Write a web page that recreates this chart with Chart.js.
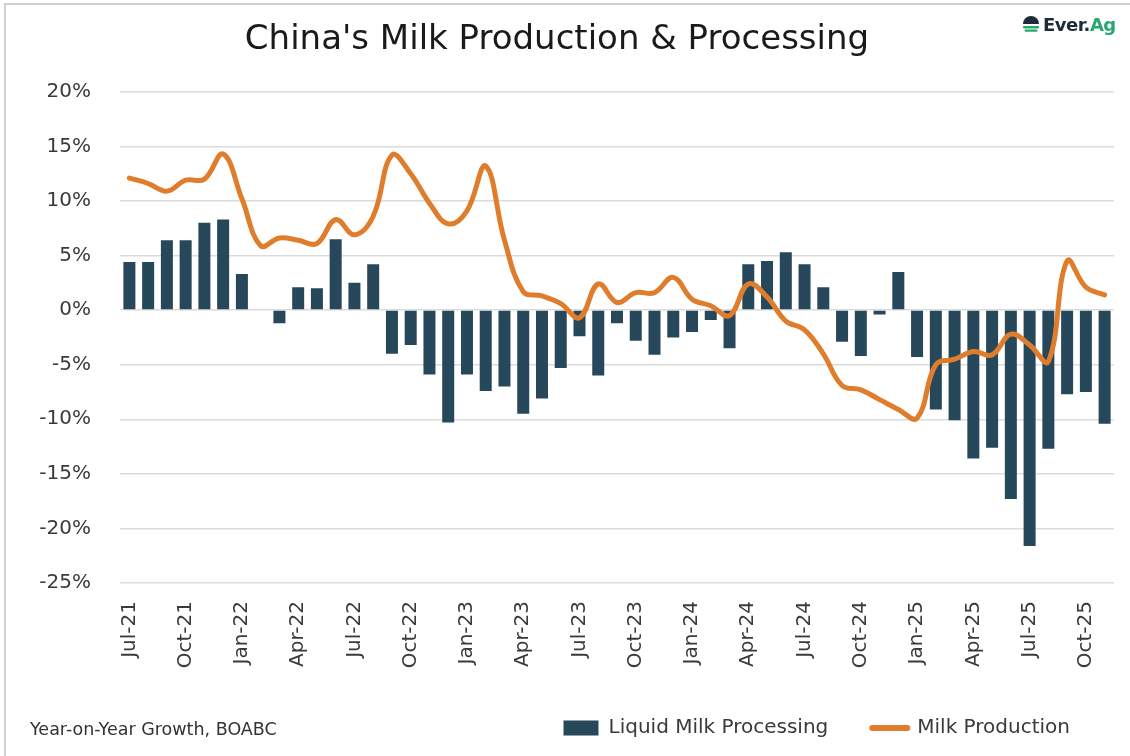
<!DOCTYPE html>
<html>
<head>
<meta charset="utf-8">
<script src="https://cdn.jsdelivr.net/npm/chart.js@4.4.1/dist/chart.umd.min.js"></script>
<style>
  html, body { margin: 0; padding: 0; background: #ffffff; }
  #wrap { position: relative; width: 1130px; height: 756px; overflow: hidden; background: #fff; }
  #frame { position: absolute; left: 4px; top: 3px; width: 1200px; height: 800px; border-left: 2px solid #cfcfcf; border-top: 2px solid #cfcfcf; box-sizing: border-box; pointer-events: none; }
  #c { position: absolute; left: 0; top: 0; }
  #logo { position: absolute; left: 1021px; top: 14px; display: flex; align-items: center; font-family: "DejaVu Sans", sans-serif; font-weight: bold; font-size: 18px; letter-spacing: -0.5px; }
  #logo .ev { color: #1d2b3a; }
  #logo .ag { color: #26a86f; }
  #foot { position: absolute; left: 30px; top: 719px; font-family: "DejaVu Sans", sans-serif; font-size: 17.5px; color: #333; }
</style>
</head>
<body>
<div id="wrap">
  <canvas id="c" width="1130" height="756"></canvas>
  <div id="frame"></div>
  <div id="logo">
    <svg width="20" height="20" viewBox="0 0 20 20" style="margin-right:2px">
      <path d="M2 9 A8 8 0 0 1 18 9 L2 9 Z" fill="#1d2b3a"/>
      <rect x="2" y="11" width="16" height="2.4" rx="1" fill="#26a86f"/>
      <rect x="3.5" y="14.6" width="13" height="2.2" rx="1" fill="#26a86f"/>
    </svg>
    <span class="ev">Ever.</span><span class="ag">Ag</span>
  </div>
  <div id="foot">Year-on-Year Growth, BOABC</div>
</div>
<script>
const categories = [
  "Jul-21","Aug-21","Sep-21","Oct-21","Nov-21","Dec-21",
  "Jan-22","Feb-22","Mar-22","Apr-22","May-22","Jun-22","Jul-22","Aug-22","Sep-22","Oct-22","Nov-22","Dec-22",
  "Jan-23","Feb-23","Mar-23","Apr-23","May-23","Jun-23","Jul-23","Aug-23","Sep-23","Oct-23","Nov-23","Dec-23",
  "Jan-24","Feb-24","Mar-24","Apr-24","May-24","Jun-24","Jul-24","Aug-24","Sep-24","Oct-24","Nov-24","Dec-24",
  "Jan-25","Feb-25","Mar-25","Apr-25","May-25","Jun-25","Jul-25","Aug-25","Sep-25","Oct-25","Nov-25"
];
const liquidMilkProcessing = [
  4.4, 4.4, 6.4, 6.4, 8.0, 8.3,
  3.3, null, -1.2, 2.1, 2.0, 6.5, 2.5, 4.2, -4.0, -3.2, -5.9, -10.3,
  -5.9, -7.4, -7.0, -9.5, -8.1, -5.3, -2.4, -6.0, -1.2, -2.8, -4.1, -2.5,
  -2.0, -0.9, -3.5, 4.2, 4.5, 5.3, 4.2, 2.1, -2.9, -4.2, -0.4, 3.5,
  -4.3, -9.1, -10.1, -13.6, -12.6, -17.3, -21.6, -12.7, -7.7, -7.5, -10.4
];
const milkProduction = [
  12.1, 11.6, 10.9, 11.9, 12.0, 14.3,
  10.2, 5.9, 6.6, 6.4, 6.1, 8.3, 6.9, 8.6, 14.2, 12.5, 9.8, 7.9,
  9.1, 13.2, 6.4, 1.7, 1.3, 0.6, -0.7, 2.4, 0.7, 1.6, 1.6, 3.0,
  1.0, 0.4, -0.5, 2.4, 1.2, -1.0, -1.8, -4.0, -6.9, -7.3, -8.2, -9.1,
  -9.9, -5.0, -4.5, -3.8, -4.1, -2.2, -3.2, -4.7, 4.5, 2.1, 1.4
];
const yTicks = [20, 15, 10, 5, 0, -5, -10, -15, -20, -25];
const seriesNames = ["Liquid Milk Processing", "Milk Production"];
const titleText = "China's Milk Production & Processing";

const BAR_COLOR = "#27485a";
const LINE_COLOR = "#e07d2c";
const TEXT_COLOR = "#3a3a3a";
const FONT = "DejaVu Sans";

Chart.defaults.font.family = FONT;
Chart.defaults.color = TEXT_COLOR;

new Chart(document.getElementById("c"), {
  data: {
    labels: categories,
    datasets: [
      {
        type: "bar",
        label: seriesNames[0],
        data: liquidMilkProcessing,
        backgroundColor: BAR_COLOR,
        borderWidth: 0,
        categoryPercentage: 1,
        barPercentage: 0.64,
        order: 2
      },
      {
        type: "line",
        label: seriesNames[1],
        data: milkProduction,
        borderColor: LINE_COLOR,
        backgroundColor: LINE_COLOR,
        borderWidth: 5,
        pointRadius: 0,
        tension: 0.4,
        borderCapStyle: "round",
        borderJoinStyle: "round",
        spanGaps: true,
        order: 1
      }
    ]
  },
  options: {
    responsive: false,
    animation: false,
    events: [],
    layout: { padding: { left: 0, right: 16, top: 0, bottom: 8 } },
    plugins: {
      tooltip: { enabled: false },
      title: {
        display: true,
        text: titleText,
        color: "#1a1a1a",
        font: { family: FONT, size: 34, weight: "normal" },
        padding: { top: 20, bottom: 31 }
      },
      legend: {
        display: true,
        position: "bottom",
        align: "end",
        maxHeight: 78,
        labels: {
          font: { family: FONT, size: 20 },
          color: TEXT_COLOR,
          usePointStyle: true,
          pointStyleWidth: 35,
          boxHeight: 15,
          padding: 44,
          sort: (a, b) => a.datasetIndex - b.datasetIndex,
          generateLabels: (chart) => {
            const items = Chart.defaults.plugins.legend.labels.generateLabels(chart);
            items.forEach(it => {
              if (it.datasetIndex === 0) {
                it.pointStyle = "rect";
                it.fillStyle = BAR_COLOR;
                it.strokeStyle = BAR_COLOR;
                it.lineWidth = 0;
              } else {
                it.pointStyle = "line";
                it.strokeStyle = LINE_COLOR;
                it.fillStyle = LINE_COLOR;
                it.lineWidth = 6;
                it.lineCap = "round";
              }
            });
            return items;
          }
        }
      }
    },
    scales: {
      x: {
        type: "category",
        offset: true,
        grid: { display: false, drawTicks: false },
        border: { display: false },
        ticks: {
          autoSkip: false,
          maxRotation: 90,
          minRotation: 90,
          padding: 18,
          font: { family: FONT, size: 20 },
          color: TEXT_COLOR,
          callback: function (value, index) {
            return index % 3 === 0 ? categories[index] : "";
          }
        },
        afterFit: (scale) => { scale.height = 91; scale.paddingLeft = 0; scale.paddingRight = 0; }
      },
      y: {
        type: "linear",
        min: yTicks[yTicks.length - 1],
        max: yTicks[0],
        grid: { color: "#dcdcdc", lineWidth: 1.5, drawTicks: false },
        border: { display: false },
        afterBuildTicks: (scale) => { scale.ticks = yTicks.map(v => ({ value: v })); },
        ticks: {
          padding: 29,
          font: { family: FONT, size: 20 },
          color: TEXT_COLOR,
          callback: (v) => v + "%"
        },
        afterFit: (scale) => { scale.width = 120; scale.paddingTop = 0; scale.paddingBottom = 0; }
      }
    }
  }
});
</script>
</body>
</html>
